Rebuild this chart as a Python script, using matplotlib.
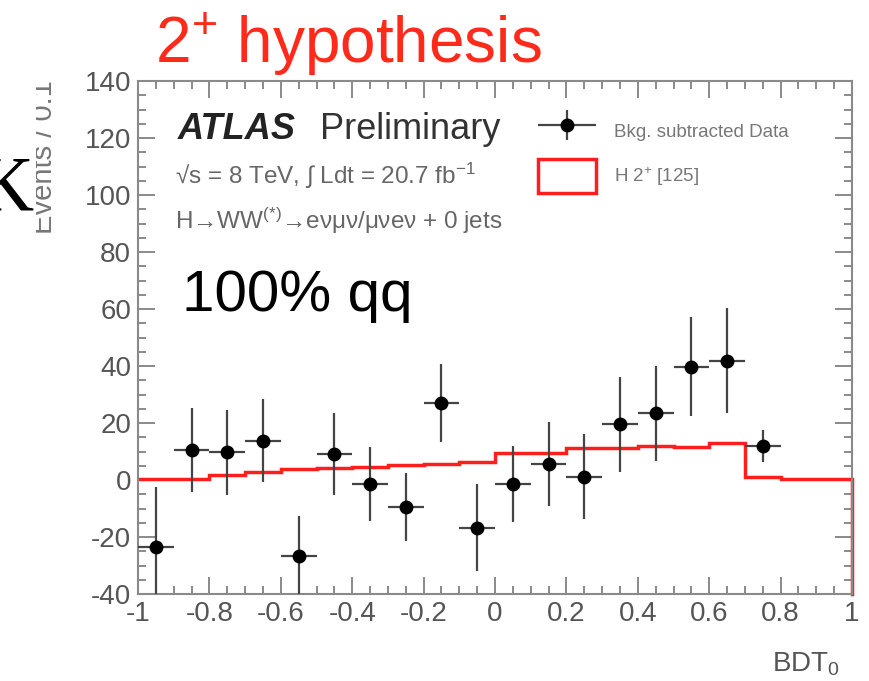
import matplotlib
matplotlib.use("Agg")
import matplotlib.pyplot as plt
from matplotlib.ticker import MultipleLocator, FuncFormatter
from matplotlib.patches import Patch
from matplotlib.legend_handler import HandlerErrorbar
from matplotlib.transforms import Bbox

plt.rcParams['font.family'] = ['Liberation Sans', 'DejaVu Sans']
plt.rcParams['mathtext.fontset'] = 'custom'
plt.rcParams['mathtext.rm'] = 'Liberation Sans'
plt.rcParams['mathtext.it'] = 'Liberation Sans:italic'
plt.rcParams['mathtext.bf'] = 'Liberation Sans:bold'

# background subtracted data (bin centres, values, errors)
bin_centers = [-0.95, -0.85, -0.75, -0.65, -0.55, -0.45, -0.35, -0.25, -0.15,
               -0.05, 0.05, 0.15, 0.25, 0.35, 0.45, 0.55, 0.65, 0.75]
data_values = [-23.4, 10.5, 9.7, 13.8, -26.6, 9.1, -1.5, -9.4, 26.9,
               -16.7, -1.5, 5.6, 1.2, 19.6, 23.4, 39.8, 41.8, 12.0]
data_errors = [21.0, 14.8, 15.0, 14.6, 14.0, 14.5, 13.0, 12.0, 13.7,
               15.2, 13.3, 14.8, 15.0, 16.7, 16.6, 17.4, 18.4, 5.7]

# spin-2 signal histogram
bin_edges = [-1.0, -0.9, -0.8, -0.7, -0.6, -0.5, -0.4, -0.3, -0.2, -0.1, 0.0,
             0.1, 0.2, 0.3, 0.4, 0.5, 0.6, 0.7, 0.8, 0.9, 1.0]
signal_values = [0.2, 0.4, 1.9, 2.7, 3.7, 4.1, 4.7, 5.4, 5.5, 6.4,
                 9.4, 9.4, 11.3, 11.3, 12.0, 11.7, 12.9, 1.2, 0.3, 0.3]

data_label = 'Bkg. subtracted Data'
signal_label = 'H 2$^{+}$ [125]'

W, H = 869, 681


def fx(px):
    return px / W


def fy(py):
    return 1 - py / H


fig = plt.figure(figsize=(W / 100, H / 100), dpi=100)
ax = fig.add_axes([fx(138), fy(594), (852 - 138) / W, (594 - 81) / H])

red = '#ff1e1e'
ax.stairs(signal_values, bin_edges, color=red, lw=2.5, zorder=2)
# ROOT-style closing edge down to the axis floor
ymin, ymax = -40, 140
ax.plot([bin_edges[-1], bin_edges[-1]], [signal_values[-1], ymin],
        color=red, lw=2.5, zorder=2, clip_on=False)

eb = ax.errorbar(bin_centers, data_values, yerr=data_errors, xerr=0.05,
                 fmt='o', color='black', ms=9, ecolor='#444444',
                 elinewidth=1.6, capsize=0, zorder=3)

ax.set_xlim(-1, 1)
ax.set_ylim(ymin, ymax)
ax.xaxis.set_major_locator(MultipleLocator(0.2))
ax.xaxis.set_minor_locator(MultipleLocator(0.05))
ax.yaxis.set_major_locator(MultipleLocator(20))
ax.yaxis.set_minor_locator(MultipleLocator(5))
ax.xaxis.set_major_formatter(FuncFormatter(lambda v, p: '%g' % round(v, 2)))
ax.yaxis.set_major_formatter(FuncFormatter(lambda v, p: '%g' % v))

ax.tick_params(which='both', direction='in', top=True, right=True,
               color='#777777', width=1.2, labelcolor='#555555',
               labelsize=20)
ax.tick_params(which='major', length=12, pad=5)
ax.tick_params(which='minor', length=6)
for s in ax.spines.values():
    s.set_color('#8a8a8a')
    s.set_linewidth(1.5)

proxy = Patch(facecolor='none', edgecolor=red, lw=2.5)
leg = ax.legend([eb, proxy], [data_label, signal_label], loc='upper left',
                bbox_to_anchor=(0.560, 0.936), frameon=False, fontsize=13.5,
                handlelength=3.1, handleheight=2.4, handletextpad=0.95,
                labelspacing=0.62, borderpad=0, borderaxespad=0,
                handler_map={type(eb): HandlerErrorbar(xerr_size=1.55,
                                                       yerr_size=0.8)})
for t in leg.get_texts():
    t.set_color('#777777')

# annotations
fig.text(fx(155), fy(63), '2$^{+}$ hypothesis', color='#ff2a1a',
         fontsize=46, va='baseline', ha='left')
fig.text(fx(178), fy(139), 'ATLAS', fontsize=26, fontweight='bold',
         fontstyle='italic', color='#222222', va='baseline')
fig.text(fx(320), fy(139), 'Preliminary', fontsize=26, color='#333333',
         va='baseline')
fig.text(fx(175), fy(184), '√s = 8 TeV, ∫ Ldt = 20.7 fb$^{-1}$',
         fontsize=17.5, color='#666666', va='baseline')
fig.text(fx(175), fy(229), 'H→WW$^{(*)}$→eνμν/μνeν + 0 jets',
         fontsize=17.5, color='#666666', va='baseline')
fig.text(fx(182), fy(311), '100% qq', fontsize=42, color='black',
         va='baseline')
fig.text(fx(840), fy(671), 'BDT$_0$', fontsize=20, color='#555555',
         va='baseline', ha='right')
fig.text(fx(34), fy(210), 'K', family='Liberation Serif', fontsize=56,
         color='black', va='baseline', ha='right')

ylab = fig.text(fx(58), fy(80), 'Events / 0.1', rotation=90, fontsize=21,
                color='#777777', ha='right', va='top')
ylab.set_clip_box(Bbox.from_extents(36, 0, W, H))
ylab.set_clip_on(True)

fig.savefig('out.png', dpi=100)
